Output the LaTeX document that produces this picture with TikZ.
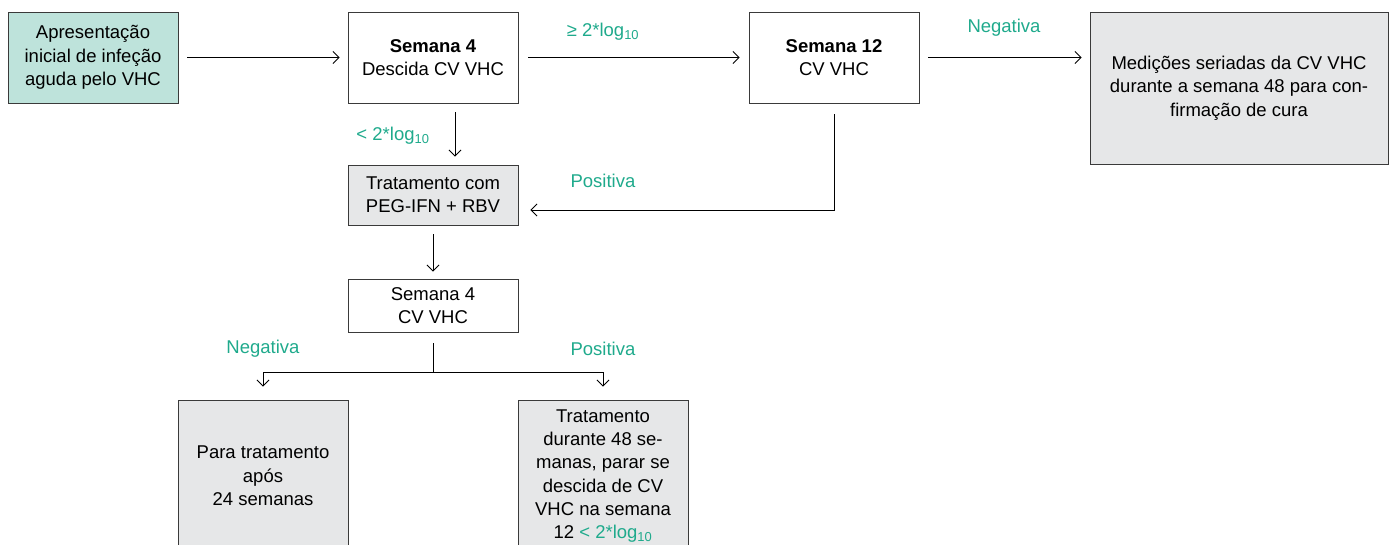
\documentclass[tikz,border=0pt]{standalone}
\usepackage{fontspec}
\setmainfont{Liberation Sans}
\usetikzlibrary{arrows.meta}
\definecolor{tealtxt}{HTML}{1FAA8C}
\definecolor{tealfill}{HTML}{BEE3DB}
\definecolor{grayfill}{HTML}{E6E7E8}
\definecolor{edge}{HTML}{3A3A3A}
\tikzset{
  box/.style={draw=edge, line width=0.9pt, inner sep=0pt, align=center,
    font=\fontsize{18.5}{23.3}\selectfont},
  lbl/.style={text=tealtxt, inner sep=0pt, font=\fontsize{18.5}{23.3}\selectfont},
  conn/.style={draw=black, line width=0.9pt},
  tip/.style={-{Straight Barb[length=6pt,width=12pt]}},
}
\newcommand{\lgsub}{log\textsubscript{10}}
\begin{document}
\begin{tikzpicture}[x=1pt,y=-1pt]
\useasboundingbox (0,0) rectangle (1389,545);
\clip (0,0) rectangle (1389,545);
\node[box, fill=tealfill, minimum width=170pt, minimum height=91pt] (A) at (93,57.5)
  {Apresentação\\inicial de infeção\\aguda pelo VHC};
\node[box, fill=white, minimum width=170pt, minimum height=91pt] (S4) at (433,57.5)
  {\textbf{Semana 4}\\Descida CV VHC};
\node[box, fill=white, minimum width=170pt, minimum height=91pt] (S12) at (834,57.5)
  {\textbf{Semana 12}\\CV VHC};
\node[box, fill=grayfill, minimum width=298pt, minimum height=152pt] (Med) at (1239,88)
  {Medições seriadas da CV VHC\\durante a semana 48 para con-\\firmação de cura};
\node[box, fill=grayfill, minimum width=170pt, minimum height=60pt] (Trat) at (433,195)
  {Tratamento com\\PEG-IFN + RBV};
\node[box, fill=white, minimum width=170pt, minimum height=53pt] (S4b) at (433,305.5)
  {Semana 4\\CV VHC};
\node[box, fill=grayfill, minimum width=170pt, minimum height=152pt] (Para) at (263,476)
  {Para tratamento\\após\\24 semanas};
\node[box, fill=grayfill, minimum width=170pt, minimum height=152pt] (Tdur) at (603,476)
  {Tratamento\\durante 48 se-\\manas, parar se\\descida de CV\\VHC na semana\\12 \textcolor{tealtxt}{< 2*\lgsub}};
\coordinate (br) at (433,372);
% connectors
\draw[conn, tip, shorten <=9pt, shorten >=8pt] (A.east) -- (S4.west);
\draw[conn, tip, shorten <=10pt, shorten >=9pt] (S4.east) -- (S12.west);
\draw[conn, tip, shorten <=9pt, shorten >=8pt] (S12.east) -- (S12.east -| Med.west);
\draw[conn, tip, shorten <=9pt, shorten >=8pt] ([xshift=22pt]S4.south) -- ([xshift=22pt]Trat.north);
\draw[conn, tip, shorten <=11pt, shorten >=12pt] (S12.south) |- ([yshift=-15pt]Trat.east);
\draw[conn, tip, shorten <=9pt, shorten >=7pt] (Trat.south) -- (S4b.north);
\draw[conn, shorten <=11pt] (S4b.south) -- (br);
\draw[conn, tip, shorten >=13pt] (br) -| (Para.north);
\draw[conn, tip, shorten >=13pt] (br) -| (Tdur.north);
% labels
\node[lbl] (l1) at (603,32) {≥ 2*\lgsub};
\node[lbl] (l2) at (1004,28) {Negativa};
\node[lbl] (l3) at (393,136) {< 2*\lgsub};
\node[lbl] (l4) at (603,181) {Positiva};
\node[lbl] (l5) at (263,349) {Negativa};
\node[lbl] (l6) at (603,349) {Positiva};
\end{tikzpicture}
\end{document}
